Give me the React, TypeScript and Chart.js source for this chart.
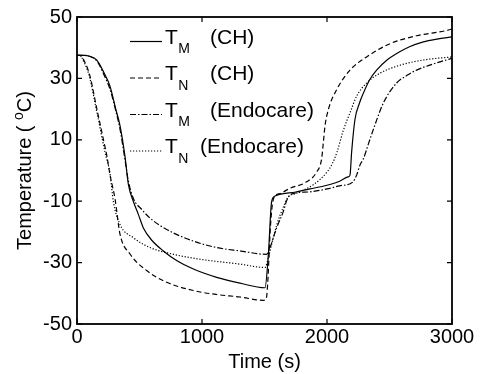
import React, { useEffect, useRef } from "react";
import { Chart, registerables } from "chart.js";

Chart.register(...registerables);

const FONT = "'Liberation Sans', Arial, Helvetica, sans-serif";

// Axis ticks
const xTicks = [0, 1000, 2000, 3000];
const yTicks = [-50, -30, -10, 10, 30, 50];

// T_M (CH) — solid
const tmChTime = [0, 60, 100, 160, 220, 264, 310, 344, 384, 411, 451, 490, 531, 600, 691, 800, 931, 1117, 1304, 1504, 1531, 1557, 1585, 1620, 1750, 1864, 2000, 2100, 2168, 2184, 2197, 2224, 2260, 2291, 2340, 2397, 2480, 2557, 2660, 2771, 2880, 3000];
const tmChTemp = [37.5, 37.5, 37.2, 35.9, 31.5, 27.5, 20, 14.6, 4.5, -4.5, -10.1, -14.2, -18.7, -22.8, -26.2, -29.4, -32.1, -34.8, -36.7, -38.2, -27.3, -10.1, -8.3, -7.8, -7, -6, -4.8, -3.5, -2.1, -1.5, 6, 16.7, 22, 25.2, 29.5, 32.7, 36, 38.1, 40.3, 41.9, 42.8, 43.5];

// T_N (CH) — dashed
const tnChTime = [0, 24, 60, 104, 160, 216, 240, 264, 304, 344, 424, 557, 717, 931, 1117, 1304, 1490, 1515, 1528, 1545, 1560, 1580, 1624, 1704, 1837, 1917, 1957, 1971, 1984, 2011, 2077, 2184, 2317, 2504, 2717, 2957, 3000];
const tnChTemp = [37.5, 37.5, 35.5, 30.7, 19.8, 9.2, 4.5, -1.4, -9.2, -20.7, -27.2, -32.6, -36.4, -39.1, -40.4, -41.2, -42.3, -41.5, -35, -20, -12, -8.5, -7.5, -5.8, -3.7, -0.5, 3.8, 9.2, 14.5, 19.9, 26.3, 32.7, 37, 41.3, 43.9, 45.6, 46.1];

// T_M (Endocare) — dash-dot
const tmEnTime = [0, 60, 100, 160, 220, 264, 310, 344, 384, 411, 451, 520, 584, 717, 931, 1117, 1304, 1517, 1544, 1597, 1651, 1680, 1720, 1850, 2000, 2100, 2208, 2237, 2264, 2291, 2330, 2371, 2451, 2557, 2640, 2717, 2904, 3000];
const tmEnTemp = [37.5, 37.5, 37.2, 35.6, 30.8, 26.5, 19.5, 13.5, 3.5, -3.5, -9.1, -12.8, -15.5, -19.2, -23, -25.1, -26.2, -27.3, -25.1, -18.7, -13.3, -9.5, -7.6, -7, -6, -5, -3.7, -1.5, 1.8, 3.8, 8.5, 13.4, 22, 28.5, 31, 32.7, 35.4, 36.5];

// T_N (Endocare) — dotted
const tnEnTime = [0, 20, 60, 100, 160, 224, 264, 291, 344, 451, 584, 771, 984, 1304, 1504, 1530, 1560, 1600, 1650, 1690, 1750, 1888, 2000, 2040, 2080, 2130, 2184, 2237, 2317, 2424, 2584, 2771, 3000];
const tnEnTemp = [37.5, 37.5, 35, 30.5, 18.8, 6, -1, -10.1, -17.6, -21.9, -25.1, -27.3, -28.9, -30.5, -31.6, -28.5, -23.5, -17.5, -12, -8.6, -7.5, -4.7, -0.5, 2, 6, 13, 18.8, 24.2, 28.5, 31.7, 34.3, 36, 37];

// Legend text
const legendSymbols = ["T", "T", "T", "T"];
const legendSubs = ["M", "N", "M", "N"];
const legendNames = ["(CH)", "(CH)", "(Endocare)", "(Endocare)"];

const xTitle = "Time (s)";
const yTitleParts = ["Temperature ( ", "o", "C)"];

const lineDashes: number[][] = [[], [5, 3], [6, 2, 1.5, 2], [1.2, 1.8]];

function pts(t: number[], v: number[]) {
  return t.map((x, i) => ({ x, y: v[i] }));
}

const decorPlugin = {
  id: "decor",
  afterDraw(chart: any) {
    const { ctx, chartArea: a, scales } = chart;
    const xs = scales.x;
    const ys = scales.y;
    ctx.save();
    ctx.strokeStyle = "#000";
    ctx.fillStyle = "#000";
    // frame
    ctx.lineWidth = 1.8;
    ctx.setLineDash([]);
    ctx.strokeRect(a.left, a.top, a.right - a.left, a.bottom - a.top);
    // inner ticks
    ctx.lineWidth = 1.2;
    const tl = 5;
    ctx.beginPath();
    xs.ticks.forEach((t: any) => {
      const p = xs.getPixelForValue(t.value);
      ctx.moveTo(p, a.bottom);
      ctx.lineTo(p, a.bottom - tl);
      ctx.moveTo(p, a.top);
      ctx.lineTo(p, a.top + tl);
    });
    ys.ticks.forEach((t: any) => {
      const p = ys.getPixelForValue(t.value);
      ctx.moveTo(a.left, p);
      ctx.lineTo(a.left + tl, p);
      ctx.moveTo(a.right, p);
      ctx.lineTo(a.right - tl, p);
    });
    ctx.stroke();

    // legend
    const bigFont = `21px ${FONT}`;
    const subFont = `14px ${FONT}`;
    ctx.textBaseline = "alphabetic";
    ctx.textAlign = "left";
    for (let i = 0; i < legendSymbols.length; i++) {
      const base = 43.5 + i * 36.5;
      ctx.setLineDash(lineDashes[i]);
      ctx.lineWidth = 1.2;
      ctx.beginPath();
      ctx.moveTo(130, base - 2);
      ctx.lineTo(162, base - 2);
      ctx.stroke();
      ctx.setLineDash([]);
      ctx.font = bigFont;
      ctx.fillText(legendSymbols[i], 165, base);
      const tw = ctx.measureText(legendSymbols[i]).width;
      ctx.font = subFont;
      ctx.fillText(legendSubs[i], 165 + tw + 0.5, base + 9.5);
      ctx.font = bigFont;
      ctx.fillText(legendNames[i], i === 3 ? 200 : 210, base);
    }

    // x title
    ctx.font = `20px ${FONT}`;
    ctx.textAlign = "center";
    ctx.textBaseline = "alphabetic";
    ctx.fillText(xTitle, (a.left + a.right) / 2, 368);

    // y title (rotated, with superscript)
    ctx.save();
    const cy = (a.top + a.bottom) / 2;
    ctx.translate(31, cy);
    ctx.rotate(-Math.PI / 2);
    ctx.textAlign = "left";
    ctx.font = `20px ${FONT}`;
    const w0 = ctx.measureText(yTitleParts[0]).width;
    const w2 = ctx.measureText(yTitleParts[2]).width;
    ctx.font = `14px ${FONT}`;
    const w1 = ctx.measureText(yTitleParts[1]).width;
    let x0 = -(w0 + w1 + w2) / 2;
    ctx.font = `20px ${FONT}`;
    ctx.fillText(yTitleParts[0], x0, 0);
    ctx.font = `14px ${FONT}`;
    ctx.fillText(yTitleParts[1], x0 + w0, -8);
    ctx.font = `20px ${FONT}`;
    ctx.fillText(yTitleParts[2], x0 + w0 + w1, 0);
    ctx.restore();

    ctx.restore();
  },
};

export default function App() {
  const ref = useRef<HTMLCanvasElement | null>(null);
  useEffect(() => {
    if (!ref.current) return;
    const mk = (data: any[], i: number) => ({
      data,
      borderColor: "#000",
      borderWidth: 1.2,
      borderDash: lineDashes[i],
      pointRadius: 0,
      fill: false,
      cubicInterpolationMode: "monotone" as const,
    });
    const chart = new Chart(ref.current, {
      type: "line",
      data: {
        datasets: [
          mk(pts(tmChTime, tmChTemp), 0),
          mk(pts(tnChTime, tnChTemp), 1),
          mk(pts(tmEnTime, tmEnTemp), 2),
          mk(pts(tnEnTime, tnEnTemp), 3),
        ],
      },
      options: {
        responsive: false,
        animation: false,
        devicePixelRatio: 1,
        layout: { padding: { top: 13, right: 28, left: 0, bottom: 0 } },
        plugins: { legend: { display: false }, tooltip: { enabled: false } },
        scales: {
          x: {
            type: "linear",
            min: 0,
            max: 3000,
            afterBuildTicks: (s: any) => {
              s.ticks = xTicks.map((v) => ({ value: v }));
            },
            afterFit: (s: any) => {
              s.height = 50;
            },
            grid: { display: false, drawTicks: false },
            border: { display: false },
            ticks: {
              color: "#000",
              font: { family: FONT, size: 20 },
              padding: 1,
              maxRotation: 0,
              autoSkip: false,
              callback: (v: any) => String(v),
            },
          },
          y: {
            type: "linear",
            min: -50,
            max: 50,
            afterBuildTicks: (s: any) => {
              s.ticks = yTicks.map((v) => ({ value: v }));
            },
            afterFit: (s: any) => {
              s.width = 77;
            },
            grid: { display: false, drawTicks: false },
            border: { display: false },
            ticks: {
              color: "#000",
              font: { family: FONT, size: 20 },
              padding: 5,
              autoSkip: false,
              callback: (v: any) => String(v),
            },
          },
        },
      },
      plugins: [decorPlugin],
    });
    return () => chart.destroy();
  }, []);
  return (
    <div style={{ position: "absolute", left: 0, top: 0, width: 480, height: 374, background: "#fff" }}>
      <canvas ref={ref} width={480} height={374} />
    </div>
  );
}
